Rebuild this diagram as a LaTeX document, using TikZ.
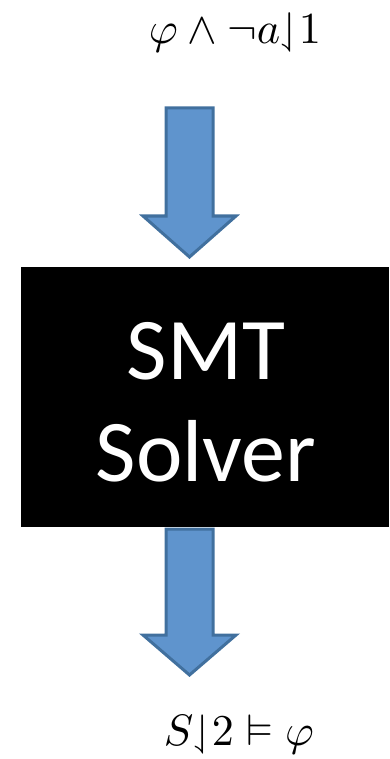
\documentclass[tikz,border=0pt]{standalone}
\usepackage{amssymb}
\usepackage{graphicx}
\usepackage{fontspec}
\newfontfamily\calib{Carlito}
\definecolor{arrfill}{HTML}{5F94CD}
\definecolor{arredge}{HTML}{41709E}
\tikzset{
  blockarrow/.style={fill=arrfill, draw=arredge, line width=3pt, line join=miter},
  solverbox/.style={fill=black, draw=none},
  mathlabel/.style={inner sep=0pt, anchor=base},
}
\begin{document}
\begin{tikzpicture}[x=1pt,y=-1pt]
\useasboundingbox (0,0) rectangle (389,759);
% input label
\node[mathlabel] (inp) at (235,44) {\resizebox{172pt}{!}{$\varphi\wedge\neg a\mathord{\downharpoonleft}1$}};
% top block arrow
\draw[blockarrow] (166,108) -- (213,108) -- (213,216) -- (236,216) -- (189.5,257) -- (143,216) -- (166,216) -- cycle;
% bottom block arrow
\draw[blockarrow] (166,529) -- (213,529) -- (213,635) -- (236,635) -- (189.5,675) -- (143,635) -- (166,635) -- cycle;
% solver box
\fill[solverbox] (21,267) rectangle (389,527);
\node[text=white, font=\calib\fontsize{88}{102}\selectfont, align=center, inner sep=0pt] (smt) at (206,402) {SMT\\Solver};
% output label
\node[mathlabel] (out) at (239,745) {\resizebox{150pt}{!}{$S\mathord{\downharpoonleft}2\mathrel{\vDash}\varphi$}};
\end{tikzpicture}
\end{document}
